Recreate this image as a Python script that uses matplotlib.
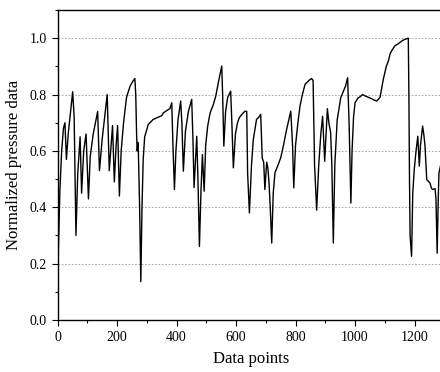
import numpy as np
import matplotlib
matplotlib.use("Agg")
import matplotlib.pyplot as plt
from matplotlib.ticker import MultipleLocator

# Vertices of the pressure trace
x_pts = [0, 3, 8, 14, 20, 25, 30, 36, 51, 56, 62, 68, 76, 81, 88, 96, 104, 110, 120,
         135, 141, 150, 167, 174, 180, 185, 191, 197, 202, 208, 214, 222, 232, 244,
         252, 260, 263, 266, 268, 270, 272, 276, 280, 284, 288, 293, 305, 322, 339,
         350, 356, 370, 378, 384, 388, 393, 398, 405, 414, 418, 423, 430, 440, 451,
         455, 459, 468, 472, 477, 482, 487, 493, 498, 505, 513, 524, 532, 542, 552,
         555, 559, 565, 572, 582, 586, 591, 598, 605, 611, 620, 630, 636, 639, 645,
         652, 658, 669, 677, 683, 688, 693, 697, 703, 707, 711, 715, 720, 725, 731,
         742, 750, 759, 770, 784, 790, 794, 800, 808, 815, 823, 832, 845, 854, 859,
         864, 871, 878, 885, 891, 898, 907, 912, 918, 922, 927, 932, 940, 952, 961,
         968, 975, 980, 986, 990, 995, 1000, 1010, 1017, 1025, 1034, 1045, 1056,
         1065, 1073, 1084, 1095, 1105, 1112, 1118, 1123, 1134, 1145, 1151, 1160,
         1168, 1179, 1181, 1183, 1185, 1190, 1194, 1199, 1205, 1211, 1216, 1220,
         1227, 1231, 1235, 1241, 1252, 1256, 1260, 1269, 1272, 1276, 1279, 1282, 1290]
y_pts = [0.00, 0.25, 0.46, 0.60, 0.68, 0.70, 0.57, 0.66, 0.81, 0.72, 0.30, 0.52, 0.65,
         0.45, 0.60, 0.66, 0.43, 0.58, 0.66, 0.74, 0.53, 0.64, 0.80, 0.53, 0.62, 0.69,
         0.49, 0.62, 0.69, 0.44, 0.60, 0.70, 0.79, 0.83, 0.845, 0.857, 0.80, 0.65,
         0.60, 0.63, 0.59, 0.40, 0.136, 0.40, 0.57, 0.65, 0.694, 0.712, 0.72, 0.725,
         0.735, 0.745, 0.75, 0.771, 0.62, 0.463, 0.60, 0.71, 0.777, 0.70, 0.528, 0.67,
         0.74, 0.783, 0.65, 0.47, 0.652, 0.50, 0.261, 0.45, 0.587, 0.457, 0.62, 0.69,
         0.735, 0.765, 0.795, 0.85, 0.901, 0.80, 0.617, 0.74, 0.79, 0.812, 0.70, 0.54,
         0.66, 0.70, 0.718, 0.73, 0.741, 0.74, 0.52, 0.38, 0.55, 0.64, 0.712, 0.72,
         0.73, 0.575, 0.56, 0.463, 0.56, 0.54, 0.486, 0.40, 0.273, 0.45, 0.523, 0.552,
         0.575, 0.617, 0.676, 0.741, 0.62, 0.469, 0.62, 0.70, 0.759, 0.80, 0.836, 0.85,
         0.857, 0.85, 0.55, 0.39, 0.55, 0.66, 0.723, 0.563, 0.75, 0.70, 0.665, 0.55,
         0.273, 0.55, 0.71, 0.789, 0.812, 0.83, 0.86, 0.70, 0.415, 0.60, 0.72, 0.771,
         0.788, 0.792, 0.80, 0.795, 0.79, 0.785, 0.78, 0.777, 0.79, 0.854, 0.90, 0.919,
         0.945, 0.955, 0.973, 0.98, 0.985, 0.992, 0.996, 1.0, 0.80, 0.50, 0.30, 0.226,
         0.45, 0.534, 0.60, 0.652, 0.546, 0.62, 0.688, 0.66, 0.62, 0.498, 0.486, 0.47,
         0.463, 0.466, 0.43, 0.237, 0.40, 0.522, 0.56]

plt.rcParams['font.family'] = ['Liberation Serif', 'DejaVu Serif']

fig = plt.figure(figsize=(4.4, 3.72), dpi=100)
ax = fig.add_axes([57.5 / 440, 52 / 372, 386.8 / 440, 310 / 372])

ax.plot(x_pts, y_pts, color='black', linewidth=1.0)

ax.set_xlim(0, 1300)
ax.set_ylim(0, 1.1)
ax.xaxis.set_major_locator(MultipleLocator(200))
ax.xaxis.set_minor_locator(MultipleLocator(100))
ax.yaxis.set_major_locator(MultipleLocator(0.2))
ax.yaxis.set_minor_locator(MultipleLocator(0.1))
ax.yaxis.set_major_formatter(plt.FuncFormatter(lambda v, p: f"{v:.1f}"))

ax.tick_params(which='both', direction='out', labelsize=10, width=0.8)
ax.tick_params(which='major', length=4)
ax.tick_params(which='minor', length=2.5)
ax.tick_params(axis='x', pad=4)

ax.grid(axis='y', which='major', color='#999999', linestyle=(0, (2, 2)), linewidth=0.6)
ax.set_axisbelow(True)

for s in ax.spines.values():
    s.set_linewidth(1.0)

ax.set_xlabel("Data points", fontsize=12, labelpad=5)
ax.set_ylabel("Normalized pressure data", fontsize=12, labelpad=6)

fig.savefig("out.png", dpi=100)
